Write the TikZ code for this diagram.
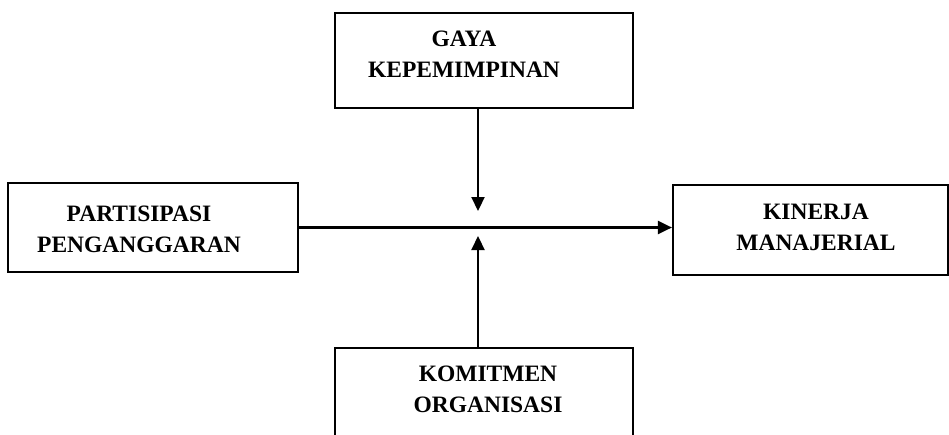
\documentclass[tikz,border=0pt]{standalone}
\usepackage{fontspec}
\setmainfont{Liberation Serif}
\usetikzlibrary{arrows.meta,positioning}
\tikzset{
  varbox/.style={draw,line width=2.2pt,inner sep=0pt},
  vartext/.style={align=center,font=\bfseries\fontsize{23.5}{31}\selectfont,inner sep=0pt},
  varflow/.style={-{Triangle[length=14pt,width=13pt]},line width=2.2pt},
}
\begin{document}
\begin{tikzpicture}[x=1pt,y=-1pt]
\useasboundingbox (0,0) rectangle (949,434);
% Boxes: moderator on top, independent left, dependent right, moderator below
\node[varbox,minimum width=298pt,minimum height=95pt] (gaya) at (484,60.5) {};
\node[varbox,minimum width=290pt,minimum height=89pt] (partisipasi) at (153,227.5) {};
\node[varbox,minimum width=275pt,minimum height=90pt] (kinerja) at (810.5,230) {};
\node[varbox,minimum width=298pt,minimum height=100pt] (komitmen) at (484,398) {};
% Texts, a little off centre as in the original boxes
\node[vartext] (gayatxt) at ([shift={(-20,-6)}]gaya.center) {GAYA\\KEPEMIMPINAN};
\node[vartext] (partisipasitxt) at ([shift={(-14,1.5)}]partisipasi.center) {PARTISIPASI\\PENGANGGARAN};
\node[vartext] (kinerjatxt) at ([shift={(5.5,-2.5)}]kinerja.center) {KINERJA\\MANAJERIAL};
\node[vartext] (komitmentxt) at ([shift={(4,-9)}]komitmen.center) {KOMITMEN\\ORGANISASI};
% Arrow ends near the main line
\coordinate (topend) at (478,211);
\coordinate (botend) at (478,236);
\draw[varflow] (partisipasi.east) -- (partisipasi.east -| kinerja.west);
\draw[varflow] (gaya.south -| topend) -- (topend);
\draw[varflow] (komitmen.north -| botend) -- (botend);
\end{tikzpicture}
\end{document}
